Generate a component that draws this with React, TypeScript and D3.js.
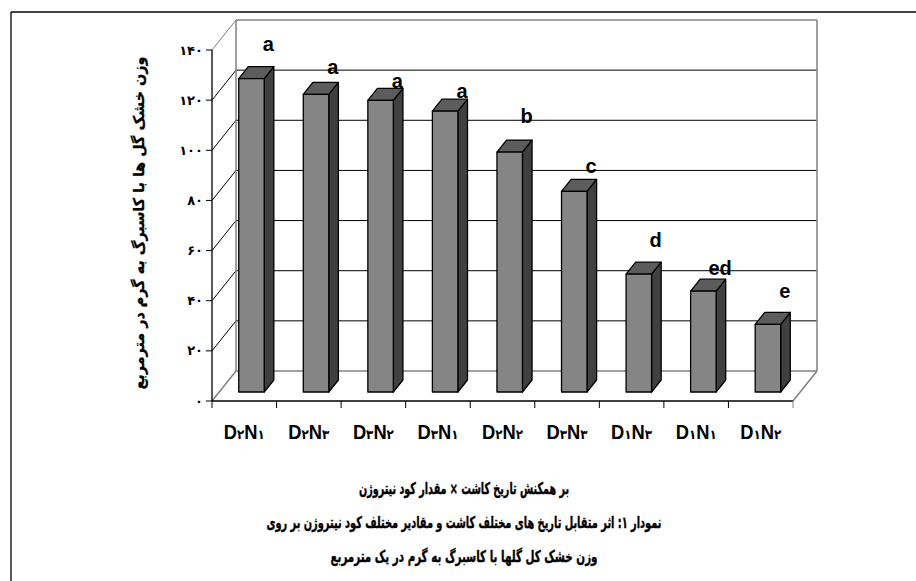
import React from "react";
import * as d3 from "d3";

// ---- data ----
const categories = ["D۲N۱", "D۲N۳", "D۳N۲", "D۳N۱", "D۲N۲", "D۳N۳", "D۱N۳", "D۱N۱", "D۱N۲"];
const values = [125, 118.7, 116.3, 112, 95.7, 80, 47, 40.2, 27];
const letters = ["a", "a", "a", "a", "b", "c", "d", "ed", "e"];
const letterLevels = [127.8, 118.5, 112.8, 108.8, 99, 79.1, 49.6, 38.3, 29];
const yTicks = [0, 20, 40, 60, 80, 100, 120, 140];
const yTitle = "وزن خشک گل ها با کاسبرگ به گرم در مترمربع";
const captionLines = [
  "بر همکنش تاریخ کاشت × مقدار کود نیتروژن",
  "نمودار ۱: اثر متقابل تاریخ های مختلف کاشت و مقادیر مختلف کود نیتروژن بر روی",
  "وزن خشک کل گلها با کاسبرگ به گرم در یک مترمربع",
];
const captionWidths = [210, 395, 267];

const toPersian = (n: number) =>
  String(n).replace(/[0-9]/g, (d) => String.fromCharCode(0x06f0 + Number(d)));

const W = 916;
const H = 581;
const x0 = 212;
const x1 = 793;
const yBase = 401;
const yTop = 50;
const DX = 24; // depth offset
const DY = -30;
const barFront = 0.3;
const barBack = 0.7;

const FONT = "'Liberation Sans', Arial, 'DejaVu Sans', sans-serif";
const AR_FONT = "'DejaVu Sans', sans-serif";

function splitLabel(s: string) {
  const parts: { t: string; digit: boolean }[] = [];
  for (const ch of s) {
    const digit = /[\u06F0-\u06F9]/.test(ch);
    const last = parts[parts.length - 1];
    if (last && last.digit === digit) last.t += ch;
    else parts.push({ t: ch, digit });
  }
  return parts;
}

export default function App() {
  const x = d3
    .scaleBand<string>()
    .domain(categories)
    .range([x0, x1])
    .paddingInner(0.605)
    .paddingOuter(0.3025);
  const y = d3.scaleLinear().domain([0, 140]).range([yBase, yTop]);
  const step = x.step();

  const bx = DX * barFront;
  const by = DY * barFront;
  const ddx = DX * (barBack - barFront);
  const ddy = DY * (barBack - barFront);
  const bw = x.bandwidth();

  const gray = "#808080";

  return (
    <svg
      width={W}
      height={H}
      style={{ position: "absolute", left: 0, top: 0, display: "block", background: "#fff" }}
      fontFamily={FONT}
    >
      {/* outer frame */}
      <line x1={11} y1={12} x2={W} y2={12} stroke="#000" strokeWidth={1.3} />
      <line x1={11} y1={12} x2={11} y2={H} stroke="#000" strokeWidth={1.3} />

      {/* back wall gridlines */}
      {yTicks
        .filter((t) => t > 0 && t < 140)
        .map((t) => (
          <g key={"g" + t}>
            <line x1={x0 + DX} x2={x1 + DX} y1={y(t) + DY} y2={y(t) + DY} stroke="#000" strokeWidth={1} />
            <line x1={x0} x2={x0 + DX} y1={y(t)} y2={y(t) + DY} stroke="#000" strokeWidth={1} />
          </g>
        ))}
      {/* wall & floor outlines */}
      <line x1={x0} y1={y(140)} x2={x0 + DX} y2={y(140) + DY} stroke={gray} strokeWidth={1} />
      <line x1={x0 + DX} y1={y(140) + DY} x2={x1 + DX} y2={y(140) + DY} stroke={gray} strokeWidth={1.5} />
      <line x1={x0 + DX} y1={y(140) + DY} x2={x0 + DX} y2={y(0) + DY} stroke={gray} strokeWidth={1.5} />
      <line x1={x1 + DX} y1={y(140) + DY} x2={x1 + DX} y2={y(0) + DY} stroke={gray} strokeWidth={1.5} />
      <line x1={x0 + DX} y1={y(0) + DY} x2={x1 + DX} y2={y(0) + DY} stroke={gray} strokeWidth={1.5} />
      <line x1={x0} y1={y(0)} x2={x0 + DX} y2={y(0) + DY} stroke={gray} strokeWidth={1.5} />
      <line x1={x1} y1={y(0)} x2={x1 + DX} y2={y(0) + DY} stroke={gray} strokeWidth={1.5} />

      {/* bars */}
      {categories.map((c, i) => {
        const left = (x(c) as number) + bx;
        const right = left + bw;
        const bottom = y(0) + by;
        const top = y(values[i]) + by;
        return (
          <g key={c} stroke="#000" strokeWidth={1.3} strokeLinejoin="round">
            <polygon
              points={`${right},${top} ${right + ddx},${top + ddy} ${right + ddx},${bottom + ddy} ${right},${bottom}`}
              fill="#404040"
            />
            <polygon
              points={`${left},${top} ${left + ddx},${top + ddy} ${right + ddx},${top + ddy} ${right},${top}`}
              fill="#5c5c5c"
            />
            <rect x={left} y={top} width={bw} height={bottom - top} fill="#858585" />
          </g>
        );
      })}

      {/* letters */}
      {categories.map((c, i) => (
        <text
          key={"l" + c}
          x={(x(c) as number) + bw / 2 + DX}
          y={y(letterLevels[i]) + DY}
          textAnchor="middle"
          fontSize={20}
          fontWeight="bold"
          fill="#000"
        >
          {letters[i]}
        </text>
      ))}

      {/* y axis */}
      <line x1={x0} x2={x0} y1={y(0)} y2={y(140)} stroke="#000" strokeWidth={1.3} />
      {yTicks.map((t) => (
        <g key={"yt" + t}>
          <line x1={x0 - 6} x2={x0} y1={y(t)} y2={y(t)} stroke="#000" strokeWidth={1} />
          <text
            x={x0 - 9}
            y={y(t)}
            dy="0.35em"
            textAnchor="end"
            fontSize={13}
            fontWeight="bold"
            fontFamily={AR_FONT}
          >
            {toPersian(t)}
          </text>
        </g>
      ))}

      {/* x axis */}
      <line x1={x0} x2={x1} y1={y(0)} y2={y(0)} stroke="#000" strokeWidth={1.3} />
      {d3.range(categories.length + 1).map((k) => (
        <line
          key={"xt" + k}
          x1={x0 + k * step}
          x2={x0 + k * step}
          y1={y(0)}
          y2={y(0) + 7}
          stroke={k === categories.length ? gray : "#000"}
          strokeWidth={1}
        />
      ))}
      {categories.map((c) => (
        <text
          key={"xl" + c}
          x={(x(c) as number) + bw / 2}
          y={439}
          textAnchor="middle"
          fontSize={20}
          fontWeight="bold"
          textLength={41}
          lengthAdjust="spacingAndGlyphs"
        >
          {splitLabel(c).map((p, j) =>
            p.digit ? (
              <tspan key={j} fontSize={13} fontFamily={AR_FONT}>
                {p.t}
              </tspan>
            ) : (
              <tspan key={j}>{p.t}</tspan>
            )
          )}
        </text>
      ))}

      {/* y title */}
      <text
        transform={`translate(144, 223) rotate(-90)`}
        textAnchor="middle"
        direction="rtl"
        fontSize={15}
        fontWeight="bold"
        fontFamily={AR_FONT}
        stroke="#000"
        strokeWidth={0.3}
        textLength={333}
        lengthAdjust="spacingAndGlyphs"
      >
        {yTitle}
      </text>

      {/* captions */}
      {captionLines.map((s, i) => (
        <text
          key={"cap" + i}
          x={464}
          y={494 + i * 34}
          textAnchor="middle"
          direction="rtl"
          fontSize={16}
          fontWeight="bold"
          fontFamily={AR_FONT}
          stroke="#000"
          strokeWidth={0.4}
          textLength={captionWidths[i]}
          lengthAdjust="spacingAndGlyphs"
        >
          {s}
        </text>
      ))}
    </svg>
  );
}
